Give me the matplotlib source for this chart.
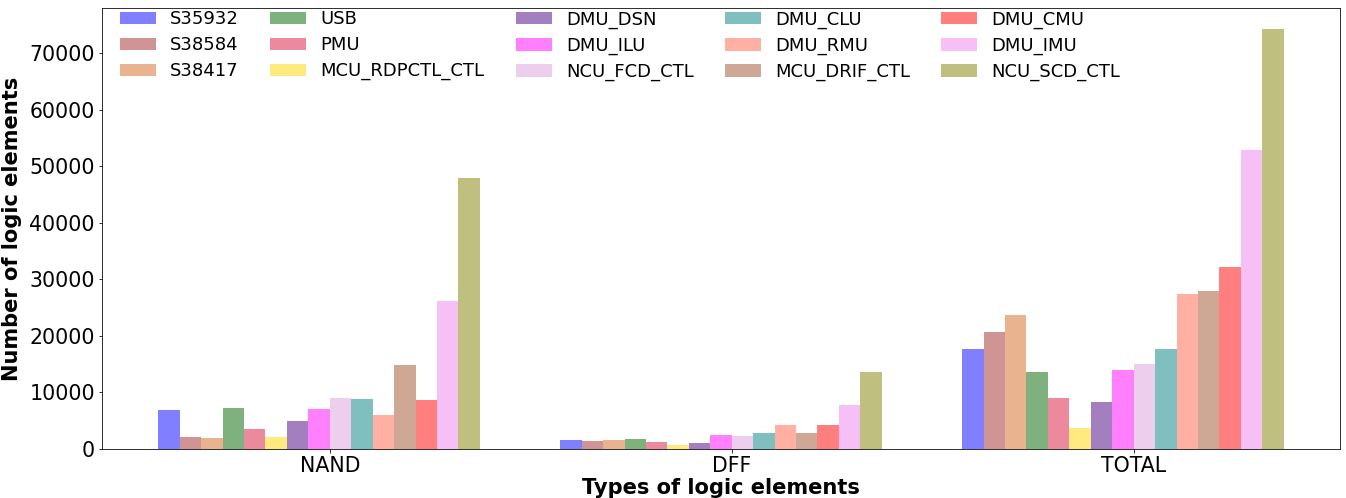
import numpy as np
import matplotlib
matplotlib.use("Agg")
import matplotlib.pyplot as plt

groups = ["NAND", "DFF", "TOTAL"]

designs = ["S35932", "S38584", "S38417", "USB", "PMU", "MCU_RDPCTL_CTL",
           "DMU_DSN", "DMU_ILU", "NCU_FCD_CTL", "DMU_CLU", "DMU_RMU",
           "MCU_DRIF_CTL", "DMU_CMU", "DMU_IMU", "NCU_SCD_CTL"]

nand = [6900, 2100, 1950, 7250, 3550, 2100, 4950, 7050, 9000, 8850, 6000,
        14850, 8650, 26150, 47900]
dff = [1600, 1400, 1600, 1750, 1250, 700, 1050, 2450, 2300, 2850, 4250,
       2850, 4250, 7800, 13600]
total = [17700, 20700, 23700, 13600, 9000, 3700, 8300, 13950, 15050, 17700,
         27400, 27950, 32150, 52850, 74250]

colors = ["blue", "brown", "chocolate", "darkgreen", "crimson", "gold",
          "indigo", "magenta", "plum", "teal", "tomato", "sienna", "red",
          "violet", "olive"]

values = np.array([nand, dff, total]).T  # one row per design

fig = plt.figure(figsize=(1346 / 72, 498 / 72), dpi=72)
ax = fig.add_axes([102 / 1346, 49 / 498, 1238 / 1346, 441 / 498])

n = len(designs)
width = 0.8 / n
x = np.arange(len(groups))
for i, (name, col) in enumerate(zip(designs, colors)):
    ax.bar(x - 0.4 + width * i, values[i], width, color=col,
           alpha=0.5, label=name)

ax.set_xticks(x)
ax.set_xticklabels(groups, fontsize=20.5)
ax.tick_params(axis="y", labelsize=20.5)
ax.set_xlabel("Types of logic elements", fontsize=21, fontweight="bold",
              labelpad=2)
ax.set_ylabel("Number of logic elements", fontsize=21, fontweight="bold",
              labelpad=7)
ax.legend(ncol=5, loc="upper left", frameon=False, fontsize=18,
          bbox_to_anchor=(0.0087, 1.011), borderaxespad=0,
          labelspacing=0.44, columnspacing=1.72)

fig.savefig("out.png", dpi=72)
